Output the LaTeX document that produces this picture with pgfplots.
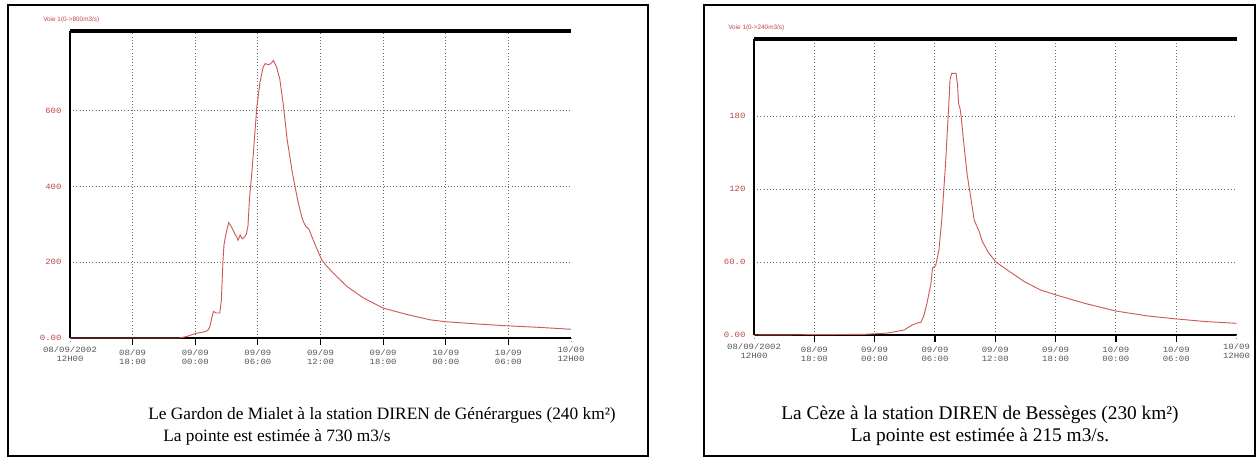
\documentclass[border=0pt]{standalone}
\usepackage{pgfplots}
\pgfplotsset{compat=1.18}
\usepackage{fontspec}
\setmainfont{Liberation Serif}
\newfontfamily\tickfont[FakeStretch=1.12]{Liberation Mono}
\newfontfamily\titlefont{Liberation Sans}
\definecolor{curve}{RGB}{205,90,90}
\definecolor{ticklab}{RGB}{190,70,70}
\definecolor{xlab}{RGB}{85,85,85}
\definecolor{gridc}{RGB}{105,105,105}

\pgfplotsset{hydro/.style={
  scale only axis,
  xmin=0, xmax=48, ymin=0,
  clip=false,
  axis lines*=left,
  axis line style={black, line width=1.3pt},
  tick align=outside,
  major tick length=5.25pt,
  xtick={6,12,...,42},
  xticklabels={{08/09\\18:00},{09/09\\00:00},{09/09\\06:00},{09/09\\12:00},{09/09\\18:00},{10/09\\00:00},{10/09\\06:00}},
  extra x ticks={0,48},
  extra x tick labels={{08/09/2002\\12H00},{10/09\\12H00}},
  extra x tick style={grid=none, major tick length=3pt, xtick style={gray, line width=0.4pt, dotted}},
  xtick style={black, line width=0.9pt},
  ytick style={draw=none},
  xticklabel style={align=center, font=\tickfont\fontsize{6pt}{6.3pt}\selectfont, text=xlab, inner sep=1pt, yshift=-2.5pt},
  yticklabel style={font=\tickfont\fontsize{6pt}{6.3pt}\selectfont, text=ticklab, inner sep=1pt},
  grid=major,
  major grid style={gridc, dotted, line width=0.7pt},
}}

\begin{document}
\begin{tikzpicture}
\path (0pt,0pt) rectangle (944.25pt,344.25pt);
% frames
\draw[line width=1.5pt] (6pt,2.25pt) rectangle (486pt,340.5pt);
\draw[line width=1.5pt] (528pt,2.25pt) rectangle (941.5pt,340.5pt);

\begin{axis}[hydro,
  at={(52.5pt,90.75pt)}, anchor=south west,
  width=375.75pt, height=230.25pt,
  ymax=811,
  ytick={0,200,400,600},
  yticklabels={0.00,200,400,600},
]
\addplot[curve, line width=0.7pt, mark=none] coordinates {
(0,0) (10.5,0) (11.2,4) (12.0,12) (12.8,16) (13.2,20) (13.4,30) (13.6,55) (13.75,70)
(14.0,66) (14.35,66) (14.5,100) (14.65,200) (14.75,245) (14.9,270) (15.2,305)
(15.5,292) (15.8,275) (16.0,266) (16.1,258) (16.3,272) (16.5,262) (16.7,266)
(16.9,275) (17.05,295) (17.2,370) (17.4,430) (17.6,500) (17.9,610) (18.2,675)
(18.5,715) (18.7,725) (19.0,722) (19.2,724) (19.5,733) (19.8,715) (20.1,684)
(20.45,613) (20.8,525) (21.3,437) (21.8,366) (22.2,320) (22.4,305) (22.6,295)
(22.9,287) (23.4,252) (24.1,207) (24.6,190) (25.2,172) (26.5,137) (28.1,106)
(30.0,79) (32.3,62) (34.5,48) (36,43) (39,37) (42,32) (45,28) (48,23)
};
\draw[line width=2.6pt] (rel axis cs:0,1) -- (rel axis cs:1,1);
\end{axis}

\begin{axis}[hydro,
  at={(565.5pt,93pt)}, anchor=south west,
  width=361.9pt, height=222pt,
  ymax=243.3,
  ytick={0,60,120,180},
  yticklabels={0.00,60.0,120,180},
]
\addplot[curve, line width=0.7pt, mark=none] coordinates {
(0,0) (10.9,0.5) (13.2,1.5) (14.9,4) (15.7,8) (16.3,10) (16.6,10.5) (16.9,16)
(17.2,26) (17.6,42) (17.75,55) (18.07,57) (18.4,70) (18.7,97) (19.07,143)
(19.4,193) (19.5,210) (19.65,215) (20.1,215) (20.25,205) (20.35,190) (20.5,186)
(20.6,180) (20.9,155) (21.2,132) (21.6,111) (21.9,94.5) (22.4,85) (22.7,77)
(23.3,68) (24.06,60) (25.2,53.4) (26.9,43.8) (28.5,37) (30.05,32.9) (32.9,26)
(36,19.7) (39.2,15.6) (42,13.2) (45,11) (48,9.6)
};
\draw[line width=2.6pt] (rel axis cs:0,1) -- (rel axis cs:1,1);
\end{axis}

% small titles
\node[anchor=west, inner sep=0pt, text=ticklab, font=\titlefont\fontsize{4.8pt}{5pt}\selectfont] at (32.25pt,329.25pt) {Voie 1(0->800m3/s)};
\node[anchor=west, inner sep=0pt, text=ticklab, font=\titlefont\fontsize{4.8pt}{5pt}\selectfont] at (546pt,323.25pt) {Voie 1(0->240m3/s)};

% captions
\node[anchor=base west, inner sep=0pt, font=\fontsize{13pt}{15pt}\selectfont] at (111pt,29.25pt) {Le Gardon de Mialet à la station DIREN de Générargues (240 km²)};
\node[anchor=base west, inner sep=0pt, font=\fontsize{13pt}{15pt}\selectfont] at (122.25pt,12.75pt) {La pointe est estimée à 730 m3/s};
\node[anchor=base, inner sep=0pt, font=\fontsize{14.5pt}{16pt}\selectfont] at (735pt,29.25pt) {La Cèze à la station DIREN de Bessèges (230 km²)};
\node[anchor=base, inner sep=0pt, font=\fontsize{14.5pt}{16pt}\selectfont] at (735pt,12.75pt) {La pointe est estimée à 215 m3/s.};
\end{tikzpicture}
\end{document}
